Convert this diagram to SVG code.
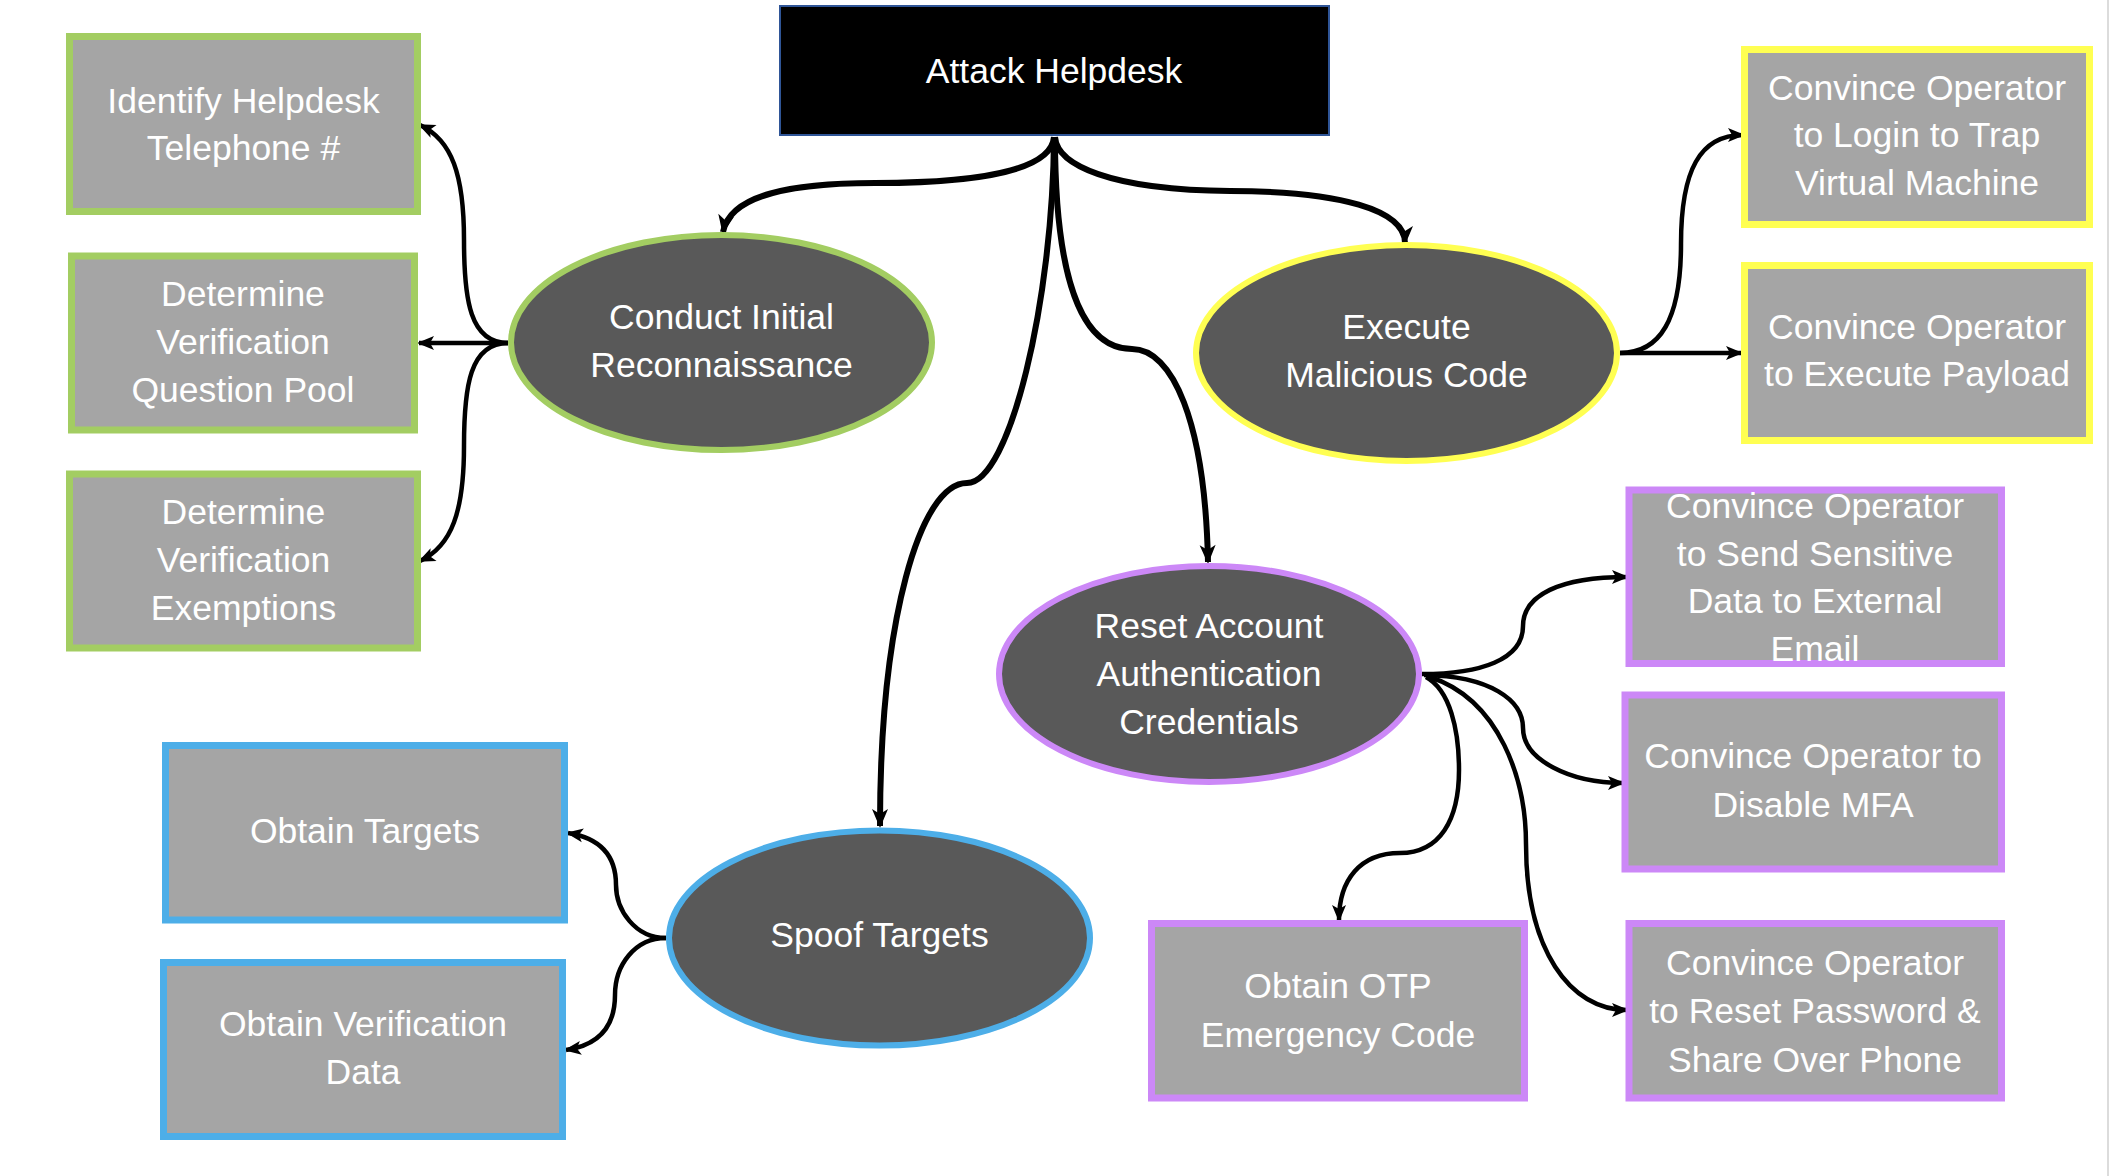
<svg xmlns="http://www.w3.org/2000/svg" width="2110" height="1176" viewBox="0 0 2110 1176">
<style>
.t{font-family:"Liberation Sans",Arial,sans-serif;font-size:35.5px;fill:#ffffff;text-anchor:middle}
.box{fill:#a5a5a5;stroke-width:7}
.ell{fill:#595959;stroke-width:6}
.g{stroke:#a3cd62}
.y{stroke:#ffff52}
.p{stroke:#cc88f7}
.b{stroke:#4daee8}
.c1{fill:none;stroke:#000;stroke-width:6;marker-end:url(#ah1)}
.c2{fill:none;stroke:#000;stroke-width:4.5;marker-end:url(#ah2)}
</style>
<defs>
<marker id="ah1" markerUnits="userSpaceOnUse" markerWidth="20" markerHeight="18" refX="17" refY="8" orient="auto" overflow="visible">
<path d="M0,0 L19,8 L0,16 L5,8 z" fill="#000"/>
</marker>
<marker id="ah2" markerUnits="userSpaceOnUse" markerWidth="18" markerHeight="16" refX="15" refY="7" orient="auto" overflow="visible">
<path d="M0,0 L17,7 L0,14 L4,7 z" fill="#000"/>
</marker>
</defs>
<rect x="0" y="0" width="2110" height="1176" fill="#ffffff"/>
<line x1="2108" y1="0" x2="2108" y2="1176" stroke="#dcdcdc" stroke-width="2"/>

<g id="connectors">
<path class="c1" d="M1054,137 C1052,165 1000,183 875,183 C790,183 730,195 723,232"/>
<path class="c1" d="M1055,137 C1057,165 1110,190 1230,191 C1340,191 1405,210 1405,243"/>
<path class="c1" d="M1054,137 C1053,300 1010,483 967,483 C920,483 880,620 880,826"/>
<path class="c1" d="M1055,137 C1055,300 1090,349 1132,349 C1172,349 1205,420 1208,562"/>
<path class="c2" d="M508,343 C470,343 464,300 464,240 C464,175 452,140 420,125"/>
<path class="c2" d="M508,343 L419,343"/>
<path class="c2" d="M508,343 C470,343 464,386 464,446 C464,511 452,546 420,561"/>
<path class="c2" d="M1620,353 C1660,353 1681,320 1681,244 C1681,170 1700,135 1743,135"/>
<path class="c2" d="M1620,353 L1741,353"/>
<path class="c2" d="M1422,674 C1480,674 1523,660 1523,626 C1523,595 1560,577 1627,577"/>
<path class="c2" d="M1424,675 C1490,676 1523,700 1523,728 C1523,760 1570,783 1623,783"/>
<path class="c2" d="M1426,677 C1450,690 1459,730 1459,770 C1459,820 1440,853 1400,853 C1360,853 1339,880 1339,920"/>
<path class="c2" d="M1430,677 C1500,700 1526,780 1526,844 C1526,950 1570,1010 1627,1010"/>
<path class="c2" d="M666,938 C635,938 616,910 616,885 C616,855 600,838 568,833"/>
<path class="c2" d="M666,938 C635,938 615,965 615,995 C615,1025 600,1045 566,1050"/>
</g>

<g id="attack-helpdesk">
<rect x="780" y="6" width="549" height="129" fill="#000" stroke="#2f5597" stroke-width="2"/>
<text class="t" x="1054" y="83">Attack Helpdesk</text>
</g>

<g id="conduct-recon">
<ellipse class="ell g" cx="721.5" cy="342.5" rx="210.5" ry="107.5"/>
<text class="t" x="721.5" y="329">Conduct Initial</text>
<text class="t" x="721.5" y="377">Reconnaissance</text>
</g>

<g id="execute-code">
<ellipse class="ell y" cx="1406.5" cy="353" rx="210.5" ry="108"/>
<text class="t" x="1406.5" y="339">Execute</text>
<text class="t" x="1406.5" y="387">Malicious Code</text>
</g>

<g id="reset-credentials">
<ellipse class="ell p" cx="1209" cy="674" rx="210" ry="108"/>
<text class="t" x="1209" y="638">Reset Account</text>
<text class="t" x="1209" y="686">Authentication</text>
<text class="t" x="1209" y="734">Credentials</text>
</g>

<g id="spoof-targets">
<ellipse class="ell b" cx="879.5" cy="938" rx="210.5" ry="107.5"/>
<text class="t" x="879.5" y="947">Spoof Targets</text>
</g>

<g id="identify-phone">
<rect class="box g" x="69.5" y="36.5" width="348" height="175"/>
<text class="t" x="243.5" y="113">Identify Helpdesk</text>
<text class="t" x="243.5" y="160">Telephone #</text>
</g>

<g id="question-pool">
<rect class="box g" x="71.5" y="256" width="343" height="174"/>
<text class="t" x="243" y="306">Determine</text>
<text class="t" x="243" y="354">Verification</text>
<text class="t" x="243" y="402">Question Pool</text>
</g>

<g id="exemptions">
<rect class="box g" x="69.5" y="474" width="348" height="174"/>
<text class="t" x="243.5" y="524">Determine</text>
<text class="t" x="243.5" y="572">Verification</text>
<text class="t" x="243.5" y="620">Exemptions</text>
</g>

<g id="login-trap-vm">
<rect class="box y" x="1744.5" y="49.5" width="345" height="175"/>
<text class="t" x="1917" y="100">Convince Operator</text>
<text class="t" x="1917" y="147">to Login to Trap</text>
<text class="t" x="1917" y="195">Virtual Machine</text>
</g>

<g id="execute-payload">
<rect class="box y" x="1744.5" y="265.5" width="345" height="175"/>
<text class="t" x="1917" y="339">Convince Operator</text>
<text class="t" x="1917" y="386">to Execute Payload</text>
</g>

<g id="send-sensitive">
<rect class="box p" x="1629" y="490" width="372.5" height="173.5"/>
<text class="t" x="1815" y="518">Convince Operator</text>
<text class="t" x="1815" y="566">to Send Sensitive</text>
<text class="t" x="1815" y="613">Data to External</text>
<text class="t" x="1815" y="661">Email</text>
</g>

<g id="disable-mfa">
<rect class="box p" x="1625" y="695" width="376.5" height="174"/>
<text class="t" x="1813" y="768">Convince Operator to</text>
<text class="t" x="1813" y="817">Disable MFA</text>
</g>

<g id="reset-password">
<rect class="box p" x="1629" y="923.5" width="372.5" height="174.5"/>
<text class="t" x="1815" y="975">Convince Operator</text>
<text class="t" x="1815" y="1023">to Reset Password &amp;</text>
<text class="t" x="1815" y="1072">Share Over Phone</text>
</g>

<g id="otp-code">
<rect class="box p" x="1151.5" y="923.5" width="373" height="174.5"/>
<text class="t" x="1338" y="998">Obtain OTP</text>
<text class="t" x="1338" y="1047">Emergency Code</text>
</g>

<g id="obtain-targets">
<rect class="box b" x="165.5" y="745.5" width="399" height="174.5"/>
<text class="t" x="365" y="843">Obtain Targets</text>
</g>

<g id="obtain-verification-data">
<rect class="box b" x="163.5" y="962.5" width="399" height="174"/>
<text class="t" x="363" y="1036">Obtain Verification</text>
<text class="t" x="363" y="1084">Data</text>
</g>
</svg>
